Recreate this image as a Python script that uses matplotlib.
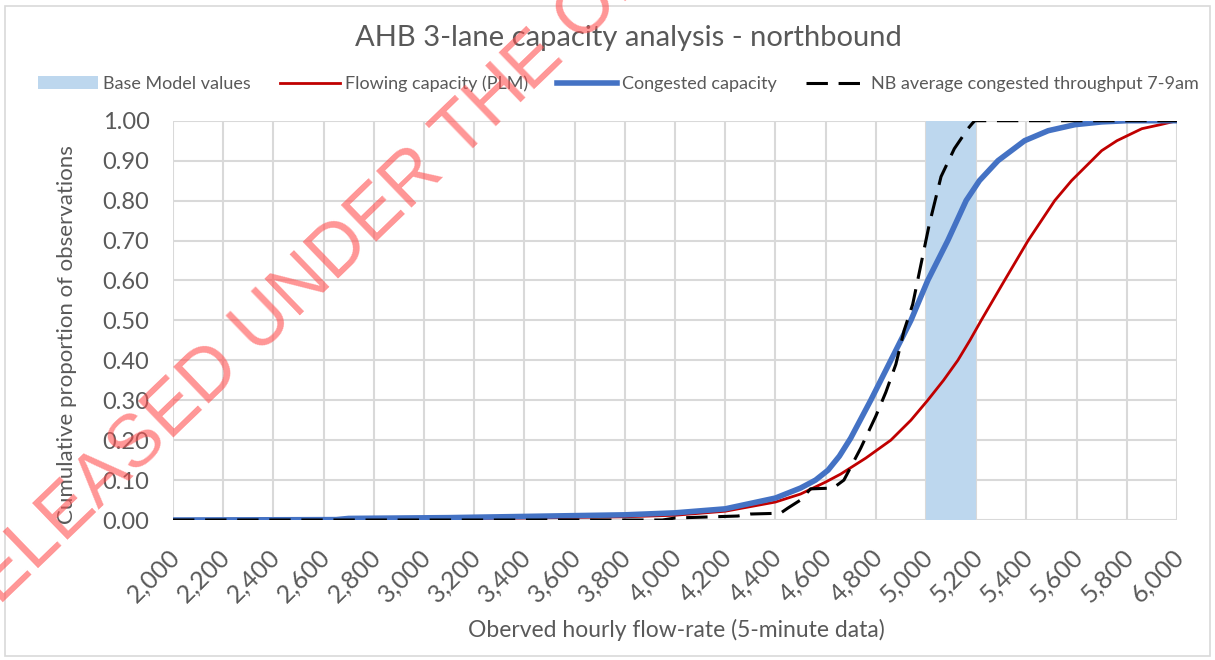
import matplotlib
matplotlib.use("Agg")
import matplotlib.pyplot as plt
import matplotlib.patches as mpatches
import matplotlib.transforms as mtransforms
from matplotlib.ticker import FuncFormatter, MultipleLocator

plt.rcParams['font.family'] = ['Lato', 'DejaVu Sans']

# band of base model values
band_lo = 5000
band_hi = 5200

# flowing capacity (PLM) - red
flow_x = [2000, 2800, 3000, 3400, 3800, 4000, 4200, 4400, 4500, 4600, 4660, 4760, 4860, 4940,
          5007, 5070, 5127, 5175, 5220, 5313, 5407, 5513, 5580, 5660, 5700, 5761, 5860, 5933, 6000]
flow_y = [0.0, 0.001, 0.003, 0.005, 0.008, 0.012, 0.022, 0.045, 0.065, 0.095, 0.115, 0.155, 0.2, 0.25,
          0.3, 0.35, 0.4, 0.45, 0.5, 0.6, 0.7, 0.8, 0.85, 0.9, 0.925, 0.95, 0.98, 0.99, 1.0]

# congested capacity - blue
cong_x = [2000, 2650, 2700, 3100, 3400, 3600, 3800, 4000, 4200, 4400, 4500, 4560, 4610, 4655,
          4700, 4780, 4860, 4940, 5007, 5087, 5160, 5213, 5287, 5393, 5487, 5593, 5700, 5800, 6000]
cong_y = [0.0, 0.001, 0.004, 0.006, 0.009, 0.011, 0.013, 0.018, 0.028, 0.055, 0.08, 0.1, 0.125, 0.16,
          0.205, 0.3, 0.4, 0.5, 0.6, 0.7, 0.8, 0.85, 0.9, 0.95, 0.975, 0.99, 0.997, 1.0, 1.0]

# NB average congested throughput 7-9am - black dashed
nb_x = [2000, 3950, 4000, 4250, 4300, 4420, 4450, 4500, 4540, 4630, 4673, 4740, 4800, 4840,
        4880, 4913, 4947, 4980, 5013, 5060, 5113, 5167, 5187, 5195, 6000]
nb_y = [0.0, 0.0, 0.005, 0.01, 0.015, 0.017, 0.03, 0.05, 0.078, 0.08, 0.1, 0.18, 0.26, 0.32,
        0.39, 0.475, 0.54, 0.64, 0.74, 0.86, 0.93, 0.98, 0.995, 1.0, 1.0]

txt = '#595959'

fig = plt.figure(figsize=(12.15, 6.6), dpi=100)
ax = fig.add_axes([0.1424, 0.2121, 0.8263, 0.605])

ax.axvspan(band_lo, band_hi, color='#BDD7EE', lw=0, zorder=1, label='Base Model values')
ax.plot(flow_x, flow_y, color='#C00000', lw=2.0, zorder=3, label='Flowing capacity (PLM)')
ax.plot(cong_x, cong_y, color='#4472C4', lw=4.0, zorder=4, label='Congested capacity')
ax.plot(nb_x, nb_y, color='black', lw=2.2, ls=(0, (7, 3.5)), zorder=5,
        label='NB average congested throughput 7-9am')

ax.set_xlim(2000, 6000)
ax.set_ylim(0, 1.0)
ax.xaxis.set_major_locator(MultipleLocator(200))
ax.yaxis.set_major_locator(MultipleLocator(0.1))
ax.xaxis.set_major_formatter(FuncFormatter(lambda v, p: '{:,.0f}'.format(v)))
ax.yaxis.set_major_formatter(FuncFormatter(lambda v, p: '{:.2f}'.format(v)))
ax.grid(True, color='#D9D9D9', lw=1.5, zorder=0)
ax.set_axisbelow(True)
for s in ax.spines.values():
    s.set_visible(False)
ax.tick_params(length=0, colors=txt, labelsize=17)
ax.tick_params(axis='y', pad=17)
ax.tick_params(axis='x', pad=24, labelsize=18)
shift = mtransforms.ScaledTranslation(3 / 100, 0, fig.dpi_scale_trans)
for lab in ax.get_xticklabels():
    lab.set_rotation(45)
    lab.set_ha('right')
    lab.set_va('center')
    lab.set_rotation_mode('anchor')
    lab.set_transform(lab.get_transform() + shift)

fig.text(0.055, 0.493, 'Cumulative proportion of observations', rotation=90,
         ha='center', va='center', color=txt, fontsize=16)
fig.text(0.557, 0.045, 'Oberved hourly flow-rate (5-minute data)', ha='center', va='center',
         color=txt, fontsize=16.5)
fig.text(0.517, 0.942, 'AHB 3-lane capacity analysis - northbound', ha='center', va='center',
         color=txt, fontsize=21)

handles, labels = ax.get_legend_handles_labels()
fig.legend(handles, labels, loc='center', bbox_to_anchor=(0.509, 0.873), ncol=4, frameon=False,
           fontsize=13, labelcolor=txt, handlelength=3.3, handletextpad=0.3, columnspacing=1.6)

# outer chart border
fig.patches.append(mpatches.Rectangle((0.004, 0.006), 0.992, 0.985, transform=fig.transFigure,
                                      fill=False, ec='#D9D9D9', lw=1.2))

# watermark
fig.text(-0.032, 0.026, 'RELEASED UNDER THE OFFICIAL INFORMATION ACT', rotation=44,
         rotation_mode='anchor', ha='left', va='baseline', fontsize=53,
         family='Liberation Sans', color='#ff5050', alpha=0.6, zorder=20)

fig.savefig('out.png', dpi=100)
